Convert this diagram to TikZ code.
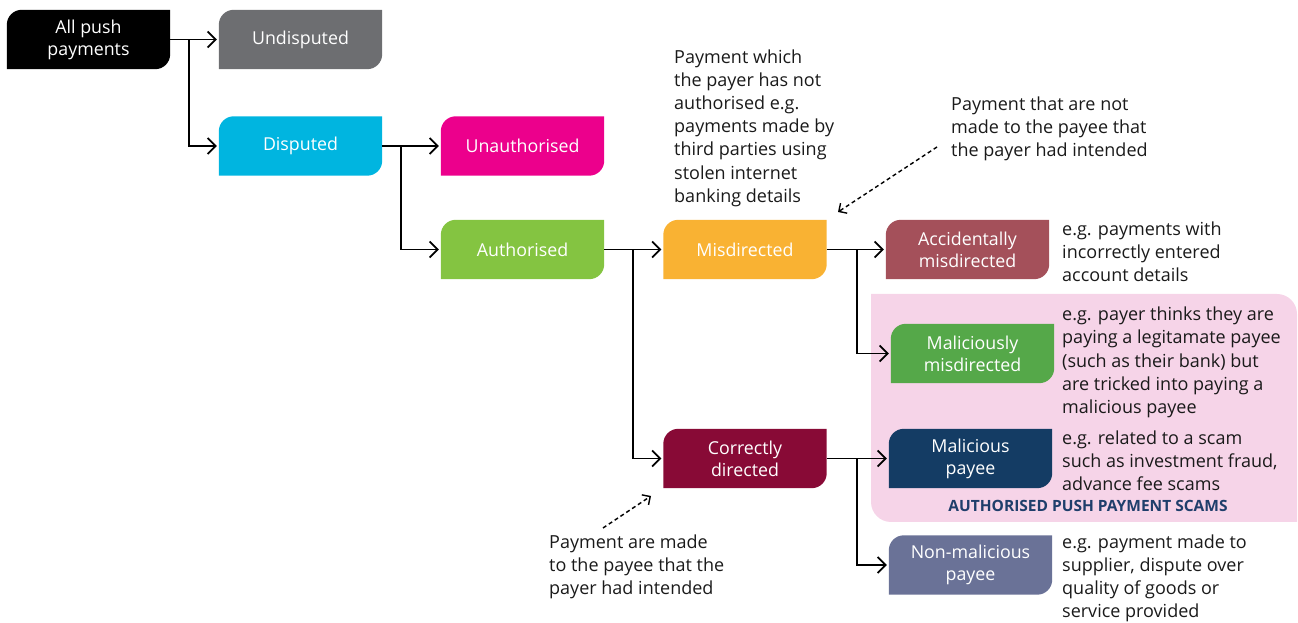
\documentclass[tikz,border=0pt]{standalone}
\usepackage{fontspec}
\setmainfont{Open Sans}
\usetikzlibrary{arrows.meta,backgrounds}
\definecolor{cAll}{HTML}{000000}
\definecolor{cUnd}{HTML}{6D6E71}
\definecolor{cDis}{HTML}{00B5E0}
\definecolor{cUna}{HTML}{EC008C}
\definecolor{cAut}{HTML}{84C441}
\definecolor{cMis}{HTML}{F9B233}
\definecolor{cAcc}{HTML}{A4505A}
\definecolor{cMal}{HTML}{55A849}
\definecolor{cMpy}{HTML}{143C64}
\definecolor{cNon}{HTML}{6A7297}
\definecolor{cCor}{HTML}{880A36}
\definecolor{cPink}{HTML}{F6D4E8}
\definecolor{cApp}{HTML}{1F3E6B}
\definecolor{cTxt}{HTML}{1A1A1A}
\tikzset{
  pbox/.style={minimum width=163pt, minimum height=59pt, inner sep=0pt, text=white, align=center,
    font=\fontsize{17.8}{22}\selectfont},
  note/.style={anchor=west, inner sep=0pt, align=left, text=cTxt, font=\fontsize{18}{23.2}\selectfont},
  arr/.style={line width=1.7pt, -{Straight Barb[length=8pt,width=16pt,line width=1.7pt]}, shorten >=2pt},
  darr/.style={line width=1.4pt, dash pattern=on 4pt off 3pt, -{Straight Barb[length=6pt,width=12pt,line width=1.4pt]}}
}
\newcommand\boxbg[2]{%
  \fill[#2] (#1.south west) -- ([yshift=-15pt]#1.north west) arc[start angle=180,end angle=90,radius=15pt]
    -- (#1.north east) -- ([yshift=15pt]#1.south east) arc[start angle=0,end angle=-90,radius=15pt] -- cycle;}
\begin{document}
\begin{tikzpicture}[x=1pt,y=1pt]
\useasboundingbox (0,0) rectangle (1298,623);
% boxes
\node[pbox] (all) at (88.5,583.5) {All push\\payments};
\node[pbox] (und) at (300.5,583.5) {Undisputed};
\node[pbox] (dis) at (300.5,477) {Disputed};
\node[pbox] (una) at (522.5,477) {Unauthorised};
\node[pbox] (aut) at (522.5,373.5) {Authorised};
\node[pbox] (mis) at (745,373.5) {Misdirected};
\node[pbox] (acc) at (967.5,373.5) {Accidentally\\misdirected};
\node[pbox] (mal) at (972.5,269.5) {Maliciously\\misdirected};
\node[pbox] (cor) at (745,164.5) {Correctly\\directed};
\node[pbox] (mpy) at (970.5,164.5) {Malicious\\payee};
\node[pbox] (non) at (970.5,58) {Non-malicious\\payee};
\begin{scope}[on background layer]
% pink region
\fill[cPink] (871,329) -- (1277,329) arc[start angle=90,end angle=0,radius=20pt] -- (1297,101) -- (891,101)
  arc[start angle=270,end angle=180,radius=20pt] -- cycle;
\boxbg{all}{cAll}\boxbg{und}{cUnd}\boxbg{dis}{cDis}\boxbg{una}{cUna}\boxbg{aut}{cAut}
\boxbg{mis}{cMis}\boxbg{acc}{cAcc}\boxbg{mal}{cMal}\boxbg{cor}{cCor}\boxbg{mpy}{cMpy}\boxbg{non}{cNon}
\end{scope}
% connectors
\draw[arr] (all.east) -- (und.west);
\draw[arr] ([xshift=19pt]all.east) |- (dis.west);
\draw[arr] (dis.east) -- (una.west);
\draw[arr] ([xshift=19pt]dis.east) |- (aut.west);
\draw[arr] (aut.east) -- (mis.west);
\draw[arr] ([xshift=29pt]aut.east) |- (cor.west);
\draw[arr] (mis.east) -- (acc.west);
\draw[arr] ([xshift=30pt]mis.east) |- (mal.west);
\draw[arr] (cor.east) -- (mpy.west);
\draw[arr] ([xshift=30pt]cor.east) |- (non.west);
% notes
\node[note] (n1) at (674,495) {Payment which\\the payer has not\\authorised e.g.\\payments made by\\third parties using\\stolen internet\\banking details};
\node[note] (n2) at (951,494) {Payment that are not\\made to the payee that\\the payer had intended};
\node[note] (n3) at (1062,371.5) {e.g. payments with\\incorrectly entered\\account details};
\node[note] (n4) at (1062,260.5) {e.g. payer thinks they are\\paying a legitamate payee\\(such as their bank) but\\are tricked into paying a\\malicious payee};
\node[note] (n5) at (1062,162) {e.g. related to a scam\\such as investment fraud,\\advance fee scams};
\node[note] (n6) at (1062,44.5) {e.g. payment made to\\supplier, dispute over\\quality of goods or\\service provided};
\node[note] (n7) at (549,56) {Payment are made\\to the payee that the\\payer had intended};
\node[font=\bfseries\fontsize{15.5}{17}\selectfont, text=cApp, inner sep=0pt] (app) at (1088,117) {AUTHORISED PUSH PAYMENT SCAMS};
% dashed pointers
\coordinate (d1s) at (937,476);
\coordinate (d1e) at (838,411);
\coordinate (d2s) at (603,95);
\coordinate (d2e) at (651,127);
\draw[darr] (d1s) -- (d1e);
\draw[darr] (d2s) -- (d2e);
\end{tikzpicture}
\end{document}
